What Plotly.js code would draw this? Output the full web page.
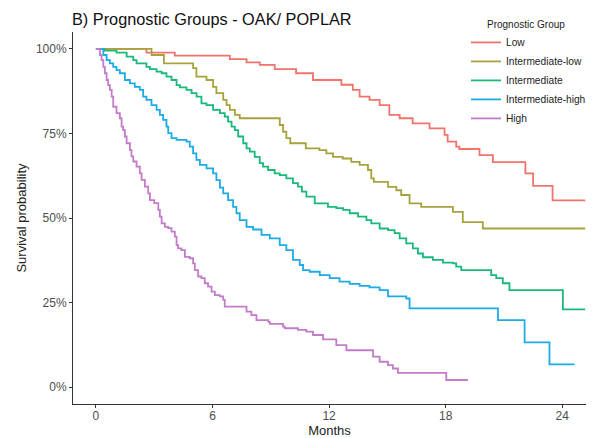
<!DOCTYPE html>
<html>
<head>
<meta charset="utf-8">
<script src="https://cdn.plot.ly/plotly-3.0.1.min.js"></script>
<style>html,body{margin:0;padding:0;background:#fff;}#chart{width:597px;height:438px;}</style>
</head>
<body>
<div id="chart"></div>
<script>
const groupNames = ["Low", "Intermediate-low", "Intermediate", "Intermediate-high", "High"];
const groupColors = ["#F2736B", "#A6A33C", "#19B97A", "#1DABE6", "#C27CC9"];
const legendTitle = "Prognostic Group";

const lowT = [0, 2.6, 4.06, 6.89, 7.75, 8.43, 9.2, 10.3, 11.17, 12.63, 13.22, 13.57, 14.08, 14.6, 15.1, 15.63, 16.3, 17.17, 17.94, 18.1, 18.54, 18.7, 19.74, 20.43, 22.1, 22.5, 23.5, 25.18];
const lowS = [1, 0.989, 0.98, 0.97, 0.96, 0.953, 0.94, 0.928, 0.908, 0.894, 0.879, 0.859, 0.849, 0.834, 0.805, 0.795, 0.78, 0.765, 0.746, 0.726, 0.711, 0.704, 0.686, 0.665, 0.632, 0.595, 0.552, 0.552];

const intLowT = [0, 2.86, 3.5, 5.0, 5.17, 5.69, 6.03, 6.2, 6.55, 6.72, 6.89, 7.15, 7.4, 9.46, 9.63, 9.8, 10.0, 10.8, 11.5, 11.86, 12.2, 12.7, 13.14, 13.57, 14.0, 14.17, 14.3, 15.03, 15.46, 15.71, 16.14, 16.74, 18.37, 18.88, 19.91, 25.18];
const intLowS = [1, 0.982, 0.957, 0.943, 0.918, 0.908, 0.888, 0.869, 0.849, 0.834, 0.82, 0.805, 0.795, 0.775, 0.755, 0.736, 0.721, 0.706, 0.701, 0.691, 0.681, 0.676, 0.666, 0.657, 0.642, 0.617, 0.607, 0.592, 0.582, 0.568, 0.543, 0.533, 0.518, 0.488, 0.469, 0.469];

const intT = [0, 0.43, 1.06, 1.58, 1.92, 2.09, 2.6, 2.78, 3.12, 3.38, 3.63, 3.89, 4.15, 4.32, 4.66, 4.92, 5.18, 5.43, 5.69, 6.03, 6.38, 6.63, 6.8, 6.98, 7.15, 7.32, 7.58, 7.75, 7.92, 8.17, 8.43, 8.6, 8.86, 9.2, 9.46, 9.8, 10.14, 10.4, 10.6, 10.83, 11.26, 11.94, 12.37, 12.72, 13.06, 13.49, 13.92, 14.17, 14.6, 15.03, 15.37, 15.63, 15.97, 16.31, 16.57, 16.83, 17.34, 17.86, 18.37, 18.54, 18.8, 20.34, 20.6, 20.94, 21.28, 24.03, 25.18];
const intS = [1, 0.995, 0.989, 0.977, 0.967, 0.957, 0.947, 0.94, 0.933, 0.928, 0.918, 0.908, 0.893, 0.886, 0.879, 0.869, 0.859, 0.839, 0.834, 0.82, 0.81, 0.8, 0.785, 0.77, 0.76, 0.741, 0.721, 0.706, 0.696, 0.681, 0.662, 0.652, 0.642, 0.632, 0.627, 0.617, 0.603, 0.593, 0.578, 0.563, 0.543, 0.533, 0.529, 0.524, 0.514, 0.504, 0.494, 0.484, 0.469, 0.464, 0.455, 0.44, 0.425, 0.41, 0.395, 0.384, 0.376, 0.368, 0.366, 0.356, 0.346, 0.331, 0.322, 0.307, 0.287, 0.23, 0.23];

const intHighT = [0, 0.38, 0.55, 0.72, 0.89, 1.06, 1.23, 1.49, 1.75, 2.0, 2.26, 2.43, 2.6, 2.86, 3.12, 3.29, 3.46, 3.63, 3.72, 3.89, 4.15, 4.66, 4.83, 5.0, 5.17, 5.35, 5.69, 6.03, 6.2, 6.38, 6.55, 6.8, 7.06, 7.23, 7.4, 7.75, 8.09, 8.52, 8.95, 9.46, 9.8, 10.14, 10.49, 10.66, 11.0, 11.52, 12.03, 12.54, 13.06, 13.57, 14.08, 14.6, 15.03, 15.97, 16.14, 20.69, 22.06, 23.34, 24.63];
const intHighS = [1, 0.982, 0.967, 0.957, 0.947, 0.937, 0.928, 0.908, 0.898, 0.888, 0.879, 0.859, 0.849, 0.834, 0.82, 0.805, 0.79, 0.77, 0.751, 0.736, 0.731, 0.726, 0.711, 0.691, 0.672, 0.657, 0.647, 0.632, 0.612, 0.59, 0.573, 0.553, 0.533, 0.514, 0.494, 0.474, 0.466, 0.45, 0.44, 0.42, 0.405, 0.376, 0.361, 0.346, 0.341, 0.331, 0.322, 0.312, 0.305, 0.299, 0.295, 0.287, 0.268, 0.262, 0.233, 0.198, 0.132, 0.067, 0.067];

const highT = [0, 0.21, 0.29, 0.38, 0.46, 0.55, 0.63, 0.72, 0.81, 0.89, 1.06, 1.23, 1.32, 1.4, 1.49, 1.58, 1.75, 1.83, 1.92, 2.09, 2.26, 2.35, 2.52, 2.69, 2.78, 3.0, 3.21, 3.29, 3.38, 3.55, 3.72, 3.89, 4.06, 4.15, 4.23, 4.4, 4.58, 4.83, 5.0, 5.09, 5.26, 5.43, 5.6, 5.77, 5.95, 6.12, 6.38, 6.55, 6.63, 7.75, 8.0, 8.26, 8.87, 8.95, 9.63, 9.72, 10.4, 10.83, 11.17, 11.69, 12.37, 12.89, 14.26, 14.6, 15.03, 15.28, 15.54, 18.03, 19.14];
const highS = [1, 0.982, 0.967, 0.947, 0.928, 0.908, 0.893, 0.879, 0.859, 0.829, 0.81, 0.795, 0.77, 0.76, 0.741, 0.721, 0.701, 0.682, 0.667, 0.652, 0.632, 0.613, 0.593, 0.573, 0.553, 0.544, 0.524, 0.504, 0.484, 0.474, 0.47, 0.46, 0.445, 0.42, 0.41, 0.405, 0.385, 0.381, 0.366, 0.346, 0.327, 0.322, 0.307, 0.297, 0.282, 0.272, 0.268, 0.258, 0.238, 0.223, 0.213, 0.198, 0.193, 0.187, 0.179, 0.174, 0.169, 0.164, 0.154, 0.141, 0.124, 0.109, 0.09, 0.075, 0.065, 0.055, 0.042, 0.021, 0.021];

const xTicks = [0, 6, 12, 18, 24];
const yTicks = [0, 0.25, 0.5, 0.75, 1];
const yTickLabels = ["0%", "25%", "50%", "75%", "100%"];

const series = [[lowT, lowS], [intLowT, intLowS], [intT, intS], [intHighT, intHighS], [highT, highS]];
const traces = series.map((d, i) => ({
  x: d[0], y: d[1], type: "scatter", mode: "lines",
  line: {shape: "hv", color: groupColors[i], width: 1.8},
  name: groupNames[i]
}));

const font = "Liberation Sans, Arial, Helvetica, sans-serif";
const layout = {
  width: 597, height: 438,
  paper_bgcolor: "#ffffff", plot_bgcolor: "#ffffff",
  margin: {l: 73, r: 11, t: 32, b: 34, autoexpand: false},
  font: {family: font, color: "#222"},
  title: {text: "B) Prognostic Groups - OAK/ POPLAR", font: {family: font, size: 16.3, color: "#111"},
          xref: "container", yref: "container", x: 72/597, xanchor: "left", y: 1 - 19/438, yanchor: "middle"},
  xaxis: {range: [-1.18, 25.22], tickvals: xTicks, ticktext: xTicks.map(String),
          showgrid: false, zeroline: false, showline: true, linecolor: "#333", linewidth: 1,
          ticks: "outside", ticklen: 3, tickcolor: "#333", tickfont: {size: 12, color: "#4d4d4d"},
          ticklabelstandoff: -2,
          title: {text: "Months", font: {size: 13, color: "#222"}, standoff: 5}},
  yaxis: {range: [-0.05, 1.05], tickvals: yTicks, ticktext: yTickLabels,
          showgrid: false, zeroline: false, showline: true, linecolor: "#333", linewidth: 1,
          ticks: "outside", ticklen: 3, tickcolor: "#333", tickfont: {size: 12, color: "#4d4d4d"},
          title: {text: "Survival probability", font: {size: 13, color: "#222"}, standoff: 6}},
  showlegend: true,
  legend: {x: 393/513, xref: "paper", xanchor: "left", yref: "paper", y: 1.011, yanchor: "top",
           bgcolor: "rgba(0,0,0,0)", font: {size: 10.2, color: "#222"}, itemwidth: 30, tracegroupgap: 0},
  annotations: [{text: legendTitle, xref: "paper", yref: "paper", x: 412/513, y: 1 + 8/372,
                 xanchor: "left", yanchor: "middle", showarrow: false, font: {size: 10, color: "#222"}}]
};
Plotly.newPlot("chart", traces, layout, {displayModeBar: false, staticPlot: true});
</script>
</body>
</html>
